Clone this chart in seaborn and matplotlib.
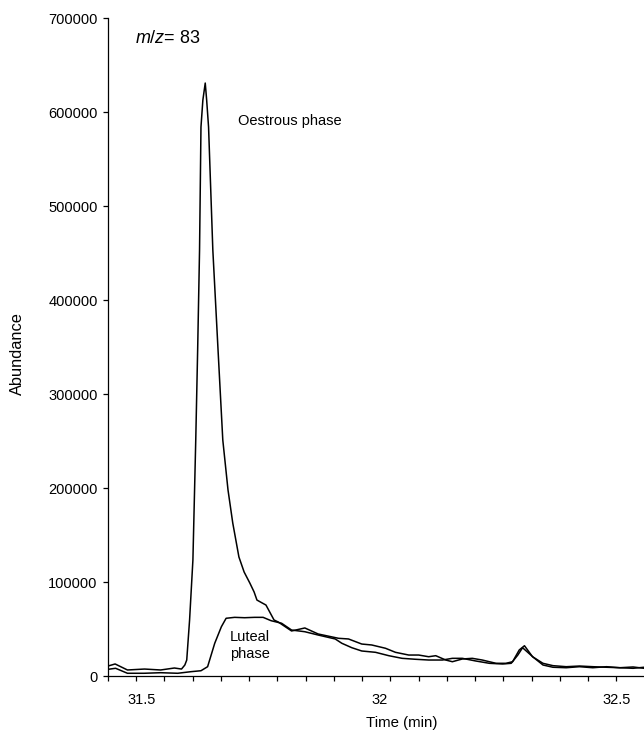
import numpy as np
import pandas as pd
import matplotlib
matplotlib.use('Agg')
import matplotlib.pyplot as plt
import seaborn as sns

#theme first, fonts after (set_theme resets font.family)
sns.set_theme(style='ticks')
plt.rcParams['font.family'] = ['Liberation Sans', 'DejaVu Sans']
plt.rcParams['mathtext.fontset'] = 'custom'
plt.rcParams['mathtext.it'] = 'Liberation Sans:italic'
plt.rcParams['mathtext.rm'] = 'Liberation Sans'
plt.rcParams['text.color'] = 'black'
plt.rcParams['xtick.color'] = 'black'
plt.rcParams['ytick.color'] = 'black'

#chromatogram traces (time in min, abundance)
oest_time = [31.428, 31.443, 31.469, 31.505, 31.539, 31.568, 31.583, 31.590, 31.594,
             31.600, 31.607, 31.613, 31.617, 31.621, 31.624, 31.628, 31.633, 31.636,
             31.640, 31.649, 31.660, 31.670, 31.681, 31.691, 31.704, 31.715, 31.727,
             31.736, 31.742, 31.753, 31.761, 31.778, 31.787, 31.815, 31.843, 31.871,
             31.914, 31.935, 31.963, 31.984, 32.013, 32.034, 32.062, 32.083, 32.104,
             32.119, 32.140, 32.154, 32.175, 32.196, 32.217, 32.246, 32.267, 32.281,
             32.295, 32.306, 32.323, 32.345, 32.366, 32.394, 32.422, 32.450, 32.479,
             32.507, 32.535, 32.558]
oest_abund = [10600, 12800, 6400, 7400, 6400, 8500, 7400, 11700, 17000,
              59600, 123400, 251100, 346800, 453200, 584000, 612700, 630800, 612700,
              584000, 453200, 346800, 251100, 197900, 162800, 126600, 110600, 98900,
              89400, 80800, 77700, 75500, 59600, 57400, 47900, 51100, 44700,
              40100, 39400, 34000, 33000, 29500, 25200, 22300, 22300, 20500,
              21600, 17000, 15200, 18100, 18800, 17000, 13500, 13500, 15200,
              27700, 32200, 20500, 13500, 11000, 9900, 10600, 9900, 9300,
              8800, 9600, 8200]

lut_time = [31.428, 31.444, 31.469, 31.504, 31.539, 31.575, 31.603, 31.624, 31.638,
            31.653, 31.667, 31.677, 31.695, 31.716, 31.737, 31.755, 31.772, 31.794,
            31.815, 31.843, 31.871, 31.907, 31.921, 31.942, 31.963, 31.992, 32.020,
            32.048, 32.076, 32.104, 32.133, 32.154, 32.175, 32.203, 32.232, 32.260,
            32.278, 32.292, 32.302, 32.324, 32.345, 32.366, 32.394, 32.422, 32.450,
            32.479, 32.507, 32.535, 32.558]
lut_abund = [7100, 8200, 2900, 2900, 3500, 2900, 4600, 5600, 9900,
             34800, 52400, 61400, 62400, 62000, 62400, 62400, 58800, 56100,
             48900, 47100, 43600, 39400, 34800, 30100, 26600, 25200, 21600,
             18800, 17800, 17000, 17000, 18800, 18800, 16000, 13500, 12800,
             13500, 22300, 30100, 20200, 11700, 9300, 8800, 9900, 8800,
             9900, 8800, 8200, 9300]

y_ticks = [0, 100000, 200000, 300000, 400000, 500000, 600000, 700000]
x_labels = [31.5, 32, 32.5]

df = pd.concat([
    pd.DataFrame({'Time': oest_time, 'Abundance': oest_abund, 'Phase': 'Oestrous'}),
    pd.DataFrame({'Time': lut_time, 'Abundance': lut_abund, 'Phase': 'Luteal'}),
], ignore_index=True)

fig = plt.figure(figsize=(6.44, 7.31), dpi=100)
ax = fig.add_axes([108/644, 1-676/731, 536/644, 658/731])

sns.lineplot(data=df, x='Time', y='Abundance', hue='Phase', units='Phase',
             estimator=None, sort=False, palette={'Oestrous': 'black', 'Luteal': 'black'},
             linewidth=1.1, legend=False, ax=ax)

x0, x1 = 31.428, 32.558
ax.set_xlim(x0, x1)
ax.set_ylim(0, 700000)
sns.despine(ax=ax)
for s in ['left', 'bottom']:
    ax.spines[s].set_color('black')
    ax.spines[s].set_linewidth(0.9)

#tick marks on an odd spacing, labels placed separately (minor ticks, no mark)
ax.xaxis.remove_overlapping_locs = False
ax.set_xticks(np.linspace(x0, 32.5, 19), labels=['']*19)
ax.set_xticks(x_labels, labels=['31.5', '32', '32.5'], minor=True)
ax.tick_params(axis='x', which='major', direction='out', length=3.5, width=0.9, color='black')
ax.tick_params(axis='x', which='minor', length=0, pad=12, labelsize=10.5)
ax.set_yticks(y_ticks, labels=[str(v) for v in y_ticks])
ax.tick_params(axis='y', direction='out', length=3.5, width=0.9, color='black', pad=4, labelsize=10.5)

ax.set_xlabel('')
ax.set_ylabel('')
fig.text(17/644, 1-354/731, 'Abundance', rotation=90, ha='center', va='center', fontsize=11.8)
fig.text(402/644, 1-723/731, 'Time (min)', ha='center', va='center', fontsize=10.8)

ax.text(31.484, 678700, r'$\mathit{m/z}$= 83', va='center', fontsize=13)
ax.text(31.702, 590400, 'Oestrous phase', va='center', fontsize=10.5)
ax.text(31.685, 32400, 'Luteal\nphase', va='center', fontsize=10.5, linespacing=1.35)

plt.savefig('out.png', dpi=100)
